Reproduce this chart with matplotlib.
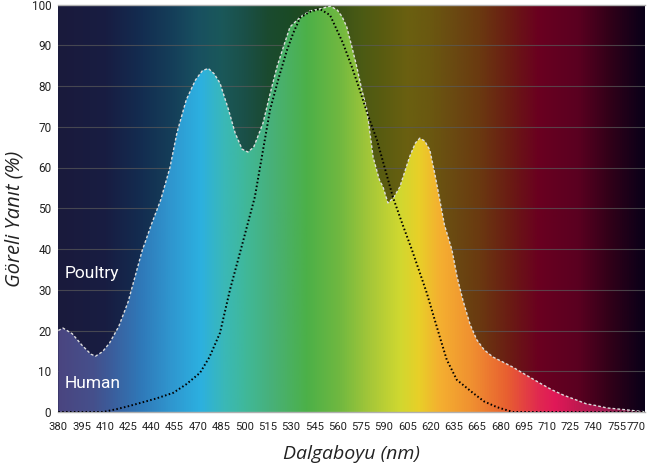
import numpy as np
import matplotlib
matplotlib.use('Agg')
import matplotlib.pyplot as plt
from matplotlib.colors import LinearSegmentedColormap
from matplotlib.patches import Polygon

# Tick labels are evenly spaced (note: 650 is skipped in the original)
wavelength_labels = [380, 395, 410, 425, 440, 455, 470, 485, 500, 515, 530, 545, 560,
                     575, 590, 605, 620, 635, 665, 680, 695, 710, 725, 740, 755, 770]
yticks = list(range(0, 101, 10))

# curves, x given in tick-slot units (0 = 380 label, 25 = 770 label)
poultry_x = [0, 0.2, 0.6, 1.0, 1.4, 1.6, 1.9, 2.2, 2.6, 3.0, 3.6, 4.0, 4.4, 4.8, 5.1, 5.5,
             5.9, 6.2, 6.45, 6.7, 6.95, 7.3, 7.6, 7.9, 8.15, 8.4, 8.8, 9.1, 9.4, 9.7, 9.96,
             10.4, 10.8, 11.3, 11.7, 12.0, 12.2, 12.4, 12.62, 12.83, 13.05, 13.27, 13.53,
             13.8, 13.96, 14.17, 14.4, 14.68, 15.1, 15.35, 15.54, 15.75, 15.97, 16.2, 16.4,
             16.6, 16.92, 17.15, 17.39, 17.7, 17.99, 18.3, 18.68, 19.1, 19.54, 20.1, 20.7,
             21.2, 21.69, 22.2, 22.7, 23.1, 23.58, 24.3, 25.13, 25.22]
poultry_y = [20.0, 20.6, 19.2, 16.5, 14.2, 13.7, 14.8, 16.9, 21, 27, 39.5, 46, 52, 60, 68.5,
             76.6, 81.5, 83.8, 84.3, 83, 80.7, 74.5, 68.5, 64.5, 63.8, 65, 70.9, 78, 84.7,
             90, 94.5, 96.9, 98.4, 99.0, 99.6, 98.6, 97, 94.5, 89.6, 84.7, 79, 74.1, 62.6,
             57, 55.2, 51.3, 52.5, 55.2, 62.6, 66, 67.2, 66.5, 64.3, 58, 52, 45.9, 39.8, 33,
             27.5, 21.5, 17.7, 15.3, 13.5, 12.3, 11, 9.1, 7.1, 5.5, 4.2, 3.1, 2, 1.6, 1.0,
             0.6, 0.1, 0]
human_x = [0, 1.93, 2.5, 3.0, 3.51, 4.2, 4.94, 5.5, 6.09, 6.5, 6.95, 7.38, 7.9, 8.45, 9.1,
           9.5, 9.83, 10.1, 10.39, 10.8, 11.24, 11.68, 12.23, 12.6, 12.96, 13.3, 13.7,
           14.38, 14.8, 15.2, 15.84, 16.4, 16.7, 17.13, 17.82, 18.3, 18.85, 19.54, 25.22]
human_y = [0, 0, 0.7, 1.4, 2.2, 3.3, 4.7, 6.8, 9.6, 13.5, 19.4, 30, 41, 52.8, 74.1, 82.5,
           88.8, 93, 96.7, 98.2, 98.9, 97.4, 90.6, 85, 79, 73, 66.7, 52.8, 46, 39.8, 29.2,
           18.4, 12.8, 7.9, 4.7, 2.6, 1.2, 0, 0]

XMAX = 25.22

# spectrum colours (slot position, colour)
bright_stops = [(0, '#4a4580'), (1.5, '#45508c'), (2.1, '#3d5a98'), (3.5, '#2f78b8'),
                (4.9, '#2f98d0'), (6.1, '#2cb0e0'), (7.1, '#3ab8b8'), (8.1, '#40b898'),
                (9.2, '#48b078'), (10.7, '#4cb048'), (12.1, '#70b840'), (13.5, '#a8c838'),
                (14.7, '#d0d830'), (15.5, '#e8d028'), (16.4, '#f4b030'), (17.8, '#f09030'),
                (19.3, '#e86030'), (20.7, '#e02850'), (21.4, '#e01858'), (22.4, '#c01850'),
                (23.5, '#a01a50'), (24.5, '#801a48'), (XMAX, '#6a1840')]
dark_stops = [(0, '#1a1a3c'), (2, '#181d42'), (3.5, '#132c50'), (5, '#15405a'),
              (6, '#185060'), (7, '#1a585a'), (8, '#1a5048'), (9, '#1a4a30'),
              (10, '#1a4a25'), (11, '#264a1e'), (12, '#3a5218'), (13, '#4a5a14'),
              (14, '#5a5c10'), (15, '#6a6010'), (16, '#6a5810'), (17, '#6a4a12'),
              (18.1, '#6a3a10'), (19.5, '#6a1a14'), (20.7, '#6a0020'), (22.4, '#5a0020'),
              (23.8, '#300018'), (XMAX, '#0a0018')]


def make_cmap(name, stops):
    return LinearSegmentedColormap.from_list(name, [(p / XMAX, c) for p, c in stops])


narrow = ['Roboto', 'DejaVu Sans']
label_font = ['Open Sans', 'DejaVu Sans']

fig = plt.figure(figsize=(6.47, 4.68), dpi=100)
ax = fig.add_axes([58.3 / 647, 1 - 412 / 468, (645 - 58.3) / 647, (412 - 4.5) / 468])

grad = np.linspace(0, 1, 512).reshape(1, -1)
ax.imshow(grad, cmap=make_cmap('dark', dark_stops), extent=[0, XMAX, 0, 100],
          aspect='auto', zorder=0)

for v in yticks[1:-1]:
    ax.axhline(v, color='#5a5a5a', lw=0.8, alpha=0.7, zorder=1)

verts = list(zip(poultry_x, poultry_y)) + [(XMAX, 0), (0, 0)]
poly = Polygon(verts, closed=True, facecolor='none', edgecolor='none')
ax.add_patch(poly)
fill = ax.imshow(grad, cmap=make_cmap('bright', bright_stops), extent=[0, XMAX, 0, 100],
                 aspect='auto', zorder=2)
fill.set_clip_path(poly)

ax.plot(poultry_x, poultry_y, color='#dcdcdc', lw=1.0, ls=(0, (2, 1.5)), zorder=3)
ax.plot(human_x, human_y, color='black', lw=1.4, ls=(0, (0.8, 1.2)), zorder=4)

ax.text(0.28, 32.9, 'Poultry', color='white', fontsize=12.5, family=narrow,
        va='baseline', ha='left', zorder=5)
ax.text(0.28, 5.9, 'Human', color='white', fontsize=12.5, family=narrow,
        va='baseline', ha='left', zorder=5)

ax.set_xlim(0, XMAX)
ax.set_ylim(0, 100)
# last label sits against the figure edge, pull it in slightly so it is not clipped
tick_pos = list(range(len(wavelength_labels)))
tick_pos[-1] -= 0.17
ax.set_xticks(tick_pos)
ax.set_xticklabels([str(w) for w in wavelength_labels], family=narrow, fontsize=8.1,
                   color='#222222')
ax.set_yticks(yticks)
ax.set_yticklabels([str(v) for v in yticks], family=narrow, fontsize=8.5, color='#222222')
ax.tick_params(axis='both', length=0)
ax.tick_params(axis='x', pad=7)
ax.tick_params(axis='y', pad=5)

for side in ['left', 'right']:
    ax.spines[side].set_visible(False)
for side in ['top', 'bottom']:
    ax.spines[side].set_color('#b0b0b0')
    ax.spines[side].set_linewidth(1.0)

fig.text(351 / 647, 1 - 454 / 468, 'Dalgaboyu (nm)', fontsize=14, style='italic',
         family=label_font, color='#222222', ha='center', va='center')
fig.text(15 / 647, 1 - 219 / 468, 'Göreli Yanıt (%)', fontsize=14.5, style='italic',
         family=label_font, color='#222222', ha='center', va='center',
         rotation=90)

fig.savefig('out.png', dpi=100)
